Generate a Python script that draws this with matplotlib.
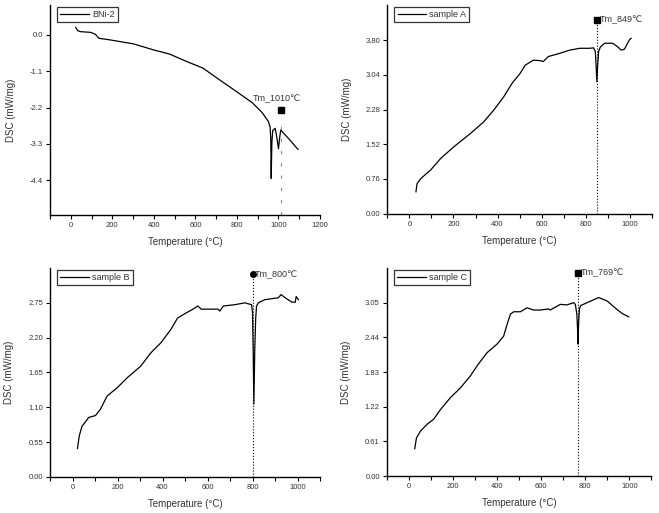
import numpy as np
import matplotlib
matplotlib.use('Agg')
import matplotlib.pyplot as plt
from matplotlib.ticker import MultipleLocator, FormatStrFormatter

plt.rcParams['font.family'] = ['Liberation Sans', 'DejaVu Sans']

# ---- data ----
t_bni = [24, 33, 48, 95, 119, 135, 190, 302, 397, 476, 556, 635, 714, 794, 873, 921,
         952, 960, 963, 965, 968, 972, 984, 992, 1000, 1006, 1011, 1016, 1050, 1087, 1094]
v_bni = [0.23, 0.13, 0.10, 0.08, 0.02, -0.10, -0.15, -0.27, -0.45, -0.58, -0.80, -1.0,
         -1.35, -1.70, -2.05, -2.35, -2.63, -2.80, -3.2, -4.35, -3.3, -2.9, -2.83, -3.1,
         -3.45, -3.1, -2.88, -2.92, -3.15, -3.42, -3.47]

t_a = [30, 35, 52, 97, 142, 203, 278, 337, 383, 428, 465, 502, 525, 562, 592, 607, 630,
       682, 727, 772, 817, 835, 843, 847, 850, 853, 858, 866, 885, 922, 945, 960, 975, 997, 1005]
v_a = [0.48, 0.66, 0.77, 0.96, 1.21, 1.47, 1.76, 2.01, 2.27, 2.56, 2.85, 3.07, 3.25,
       3.36, 3.35, 3.33, 3.44, 3.51, 3.58, 3.62, 3.62, 3.63, 3.55, 3.2, 2.89, 3.2, 3.55,
       3.65, 3.73, 3.73, 3.65, 3.58, 3.6, 3.80, 3.84]

t_b = [22, 30, 42, 72, 102, 124, 154, 199, 244, 303, 348, 393, 437, 467, 505, 535, 557,
       572, 602, 647, 655, 670, 721, 766, 796, 800, 803, 806, 810, 814, 818, 826, 855, 915,
       927, 945, 975, 990, 994, 1004]
v_b = [0.45, 0.65, 0.80, 0.94, 0.97, 1.07, 1.28, 1.41, 1.57, 1.75, 1.96, 2.12, 2.33,
       2.51, 2.59, 2.65, 2.70, 2.65, 2.65, 2.65, 2.62, 2.70, 2.72, 2.75, 2.72, 2.6, 2.0,
       1.15, 2.0, 2.5, 2.70, 2.75, 2.80, 2.83, 2.88, 2.83, 2.76, 2.76, 2.85, 2.80]

t_c = [27, 35, 53, 83, 113, 144, 189, 234, 279, 310, 355, 400, 430, 446, 461, 476, 506,
       536, 566, 596, 634, 641, 687, 717, 747, 755, 762, 765, 767, 770, 774, 780, 808, 861,
       899, 944, 967, 997]
v_c = [0.48, 0.67, 0.79, 0.91, 1.00, 1.17, 1.38, 1.55, 1.76, 1.94, 2.17, 2.32, 2.46,
       2.67, 2.85, 2.89, 2.89, 2.96, 2.92, 2.92, 2.94, 2.92, 3.02, 3.01, 3.05, 3.02, 2.85,
       2.6, 2.32, 2.7, 2.95, 3.00, 3.05, 3.14, 3.08, 2.93, 2.86, 2.80]

yt_bni = [-4.4, -3.3, -2.2, -1.1, 0.0]
yt_a = [0.00, 0.76, 1.52, 2.28, 3.04, 3.80]
yt_b = [0.00, 0.55, 1.10, 1.65, 2.20, 2.75]
yt_c = [0.00, 0.61, 1.22, 1.83, 2.44, 3.05]

panels = [
    # name, T, DSC, xlim, ylim, yticks, fmt, Tm, marker y, marker
    ('BNi-2', t_bni, v_bni, (-100, 1200), (-5.46, 0.91), yt_bni, '%.1f', 1010, -2.27, 's'),
    ('sample A', t_a, v_a, (-100, 1100), (0, 4.56), yt_a, '%.2f', 849, 4.24, 's'),
    ('sample B', t_b, v_b, (-100, 1100), (0, 3.30), yt_b, '%.2f', 800, 3.20, 'o'),
    ('sample C', t_c, v_c, (-100, 1100), (0, 3.66), yt_c, '%.2f', 769, 3.58, 's'),
]

positions = [
    [0.0759, 0.5809, 0.4097, 0.4094],
    [0.5877, 0.5834, 0.4017, 0.4062],
    [0.0759, 0.0702, 0.4097, 0.4074],
    [0.5868, 0.0721, 0.4017, 0.4055],
]

fig = plt.figure(figsize=(6.59, 5.13), dpi=100)
grey = '#333333'

for i, (name, t, v, xl, yl, yt, fmt, tm, my, mk) in enumerate(panels):
    ax = fig.add_axes(positions[i])
    ax.plot(t, v, color='black', linewidth=0.9, label=name)

    if i == 0:
        ax.plot([tm, tm], [yl[0], -2.75], color='#888888', linewidth=0.8,
                linestyle=(0, (3, 8)))
        ax.plot(tm, my, marker=mk, color='black', markersize=5)
        ax.text(tm - 20, my + 0.2, 'Tm_1010\u2103', fontsize=6.5, color=grey,
                ha='center', va='bottom')
    else:
        ax.plot([tm, tm], [yl[0], my], color='black', linewidth=0.8, linestyle=':')
        ax.plot(tm, my, marker=mk, color='black', markersize=4)
        ax.text(tm + 12, my, 'Tm_%d\u2103' % tm, fontsize=6.5, color=grey,
                ha='left', va='center')

    ax.set_xlim(xl)
    ax.set_ylim(yl)
    ax.xaxis.set_major_locator(MultipleLocator(200))
    ax.xaxis.set_minor_locator(MultipleLocator(100))
    ax.set_yticks(yt)
    ax.yaxis.set_major_formatter(FormatStrFormatter(fmt))
    ax.spines['top'].set_visible(False)
    ax.spines['right'].set_visible(False)
    for s in ('left', 'bottom'):
        ax.spines[s].set_linewidth(1.0)
    ax.tick_params(which='both', direction='out', length=3, width=0.8,
                   labelsize=5.5, labelcolor=grey, pad=2)

    ax.set_xlabel('Temperature (°C)', fontsize=7, color=grey, labelpad=6)
    ax.set_ylabel('DSC (mW/mg)', fontsize=7, color=grey, labelpad=10)

    leg = ax.legend(loc='upper left', bbox_to_anchor=(0.02, 1.0), fontsize=6.5,
                    handlelength=3.2, borderpad=0.35, fancybox=False,
                    borderaxespad=0.2, handletextpad=0.3)
    leg.get_frame().set_edgecolor('black')
    leg.get_frame().set_linewidth(0.9)
    for txt in leg.get_texts():
        txt.set_color(grey)

fig.savefig('out.png', dpi=100)
